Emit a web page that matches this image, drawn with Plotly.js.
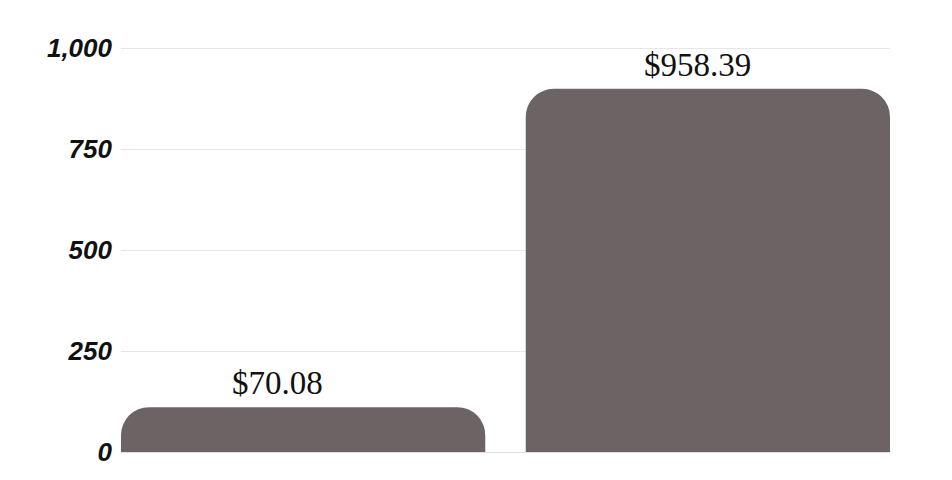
<!DOCTYPE html>
<html>
<head>
<meta charset="utf-8">
<script src="https://cdn.plot.ly/plotly-3.0.1.min.js"></script>
<style>html,body{margin:0;padding:0;background:#fff;}#chart{width:952px;height:480px;}</style>
</head>
<body>
<div id="chart"></div>
<script>
const categories = ["Bar 1", "Bar 2"];
const values = [111, 899];
const valueLabels = ["$70.08", "$958.39"];
const yTickVals = [0, 250, 500, 750, 1000];
const yTickText = ["0", "250", "500", "750", "1,000"];

const trace = {
  type: "bar",
  x: categories,
  y: values,
  marker: { color: "#6b6364", cornerradius: 28 },
  hoverinfo: "none"
};

const labelShifts = [-26, -10];
const annotations = categories.map((c, i) => ({
  x: c, y: values[i], xref: "x", yref: "y",
  text: valueLabels[i], showarrow: false,
  yanchor: "bottom", yshift: 4, xshift: labelShifts[i],
  font: { family: "Liberation Serif, DejaVu Serif, serif", size: 33, color: "#111" }
}));

const layout = {
  width: 952, height: 480,
  margin: { l: 121, r: 62, t: 44, b: 28 },
  paper_bgcolor: "#fff", plot_bgcolor: "#fff",
  showlegend: false,
  bargap: 0.1,
  xaxis: {
    type: "category", range: [-0.45, 1.45],
    showticklabels: false, showgrid: false, zeroline: false, showline: false, ticks: ""
  },
  yaxis: {
    range: [0, 1010], tickvals: yTickVals, ticktext: yTickText,
    showgrid: true, gridcolor: "#e6e6e6", gridwidth: 1,
    zeroline: true, zerolinecolor: "#e0e0e0", zerolinewidth: 1,
    showline: false, ticks: "", ticklabelstandoff: 8,
    tickfont: { family: "Liberation Sans, Arial, sans-serif", size: 26, color: "#111", weight: "bold", style: "italic" }
  },
  annotations: annotations
};

Plotly.newPlot("chart", [trace], layout, { displayModeBar: false, staticPlot: true });
</script>
</body>
</html>
